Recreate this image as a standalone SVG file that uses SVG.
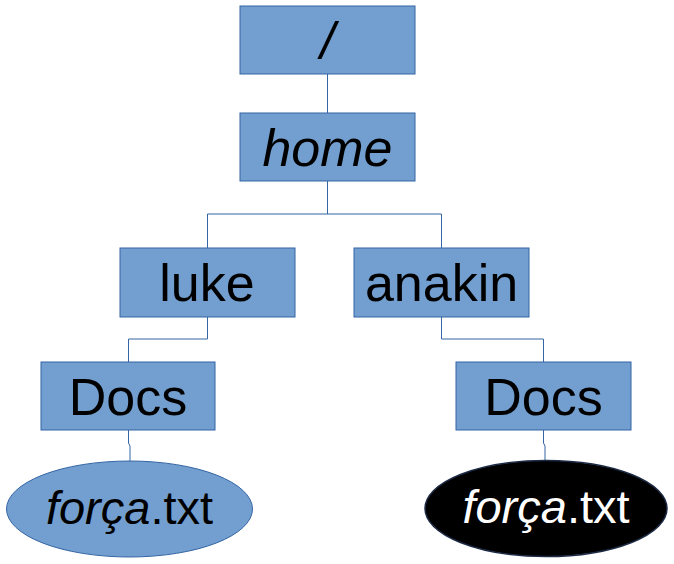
<svg xmlns="http://www.w3.org/2000/svg" width="674" height="564" viewBox="0 0 674 564">
  <style>
    .box { fill: #729fcf; stroke: #3465a4; stroke-width: 1; }
    .lbl { font-family: "Liberation Sans", Arial, sans-serif; font-size: 52px; fill: #000; text-anchor: middle; }
    .it { font-style: italic; }
    .file { font-family: "Liberation Sans", Arial, sans-serif; font-size: 47px; text-anchor: middle; }
    .conn { fill: none; stroke: #3465a4; stroke-width: 1; }
  </style>
  <rect width="674" height="564" fill="#ffffff"/>
  <g id="connectors">
    <path class="conn" d="M327.5 74 V113"/>
    <path class="conn" d="M327.5 181 V214 M207.5 214 H441.5 M207.5 214 V248 M441.5 214 V248"/>
    <path class="conn" d="M207.5 317 V339 H128.5 V362"/>
    <path class="conn" d="M441.5 317 V339 H543.5 V362"/>
    <path class="conn" d="M128.5 430 V443 L130 446 V461"/>
    <path class="conn" d="M543.5 430 V443 L545 446 V460"/>
  </g>
  <g id="node-root">
    <rect class="box" x="240" y="6" width="175" height="68"/>
    <text class="lbl it" x="327.5" y="59">/</text>
  </g>
  <g id="node-home">
    <rect class="box" x="240" y="113" width="175" height="68"/>
    <text class="lbl it" x="327.5" y="165.5">home</text>
  </g>
  <g id="node-luke">
    <rect class="box" x="120" y="248" width="175" height="69"/>
    <text class="lbl" x="207" y="301">luke</text>
  </g>
  <g id="node-anakin">
    <rect class="box" x="354" y="248" width="175" height="69"/>
    <text class="lbl" x="441.5" y="301">anakin</text>
  </g>
  <g id="node-docs-luke">
    <rect class="box" x="41" y="362" width="174" height="68"/>
    <text class="lbl" x="128" y="414.5">Docs</text>
  </g>
  <g id="node-docs-anakin">
    <rect class="box" x="456" y="362" width="175" height="68"/>
    <text class="lbl" x="543.5" y="414.5">Docs</text>
  </g>
  <g id="node-forca-luke">
    <ellipse cx="129.5" cy="509" rx="123" ry="48" fill="#729fcf" stroke="#3465a4" stroke-width="1"/>
    <text class="file" x="129.5" y="524" fill="#000"><tspan font-style="italic">força</tspan>.txt</text>
  </g>
  <g id="node-forca-anakin">
    <ellipse cx="546" cy="508.5" rx="121" ry="48" fill="#000000" stroke="#1c2a44" stroke-width="1.5"/>
    <text class="file" x="546" y="523" fill="#ffffff"><tspan font-style="italic">força</tspan>.txt</text>
  </g>
</svg>
